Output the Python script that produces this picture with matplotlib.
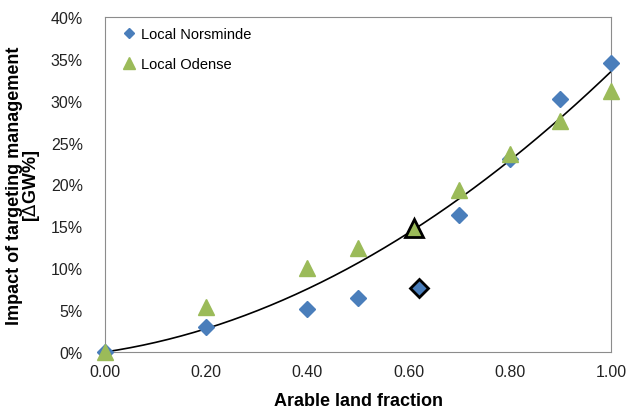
import numpy as np
import matplotlib
matplotlib.use("Agg")
import matplotlib.pyplot as plt
from matplotlib.ticker import FuncFormatter

plt.rcParams['font.family'] = ['Liberation Sans', 'DejaVu Sans']

# data (fraction of arable land vs impact in %)
norsminde_x = [0.0, 0.2, 0.4, 0.5, 0.7, 0.8, 0.9, 1.0]
norsminde_y = [0.0, 3.0, 5.1, 6.4, 16.4, 23.1, 30.2, 34.5]
odense_x = [0.0, 0.2, 0.4, 0.5, 0.7, 0.8, 0.9, 1.0]
odense_y = [0.0, 5.4, 10.0, 12.4, 19.4, 23.6, 27.6, 31.2]
# highlighted points
hl_norsminde = (0.62, 7.6)
hl_odense = (0.61, 14.8)

blue = '#4a7ebb'
green = '#9bbb59'

fig = plt.figure(figsize=(6.28, 4.10), dpi=100)
ax = fig.add_axes([105 / 628, 57 / 410, 506 / 628, 335 / 410])

# polynomial trend line through origin (fit on both series)
xs = np.array(norsminde_x + odense_x)
ys = np.array(norsminde_y + odense_y)
A = np.vstack([xs, xs ** 2]).T
coef, *_ = np.linalg.lstsq(A, ys, rcond=None)
xf = np.linspace(0, 1, 200)
ax.plot(xf, coef[0] * xf + coef[1] * xf ** 2, color='black', lw=1.2, zorder=2)

ax.plot(norsminde_x, norsminde_y, 'D', color=blue, ms=8, mec=blue,
        label='Local Norsminde', zorder=3, clip_on=False)
ax.plot(odense_x, odense_y, '^', color=green, ms=12, mec=green,
        label='Local Odense', zorder=3, clip_on=False)
ax.plot(*hl_norsminde, 'D', color=blue, ms=9, mec='black', mew=2, zorder=4)
ax.plot(*hl_odense, '^', color=green, ms=13, mec='black', mew=2, zorder=4)

ax.set_xlim(0, 1)
ax.set_ylim(0, 40)
ax.set_xticks(np.arange(0, 1.01, 0.2))
ax.set_yticks(np.arange(0, 41, 5))
ax.xaxis.set_major_formatter(FuncFormatter(lambda v, p: f'{v:.2f}'))
ax.yaxis.set_major_formatter(FuncFormatter(lambda v, p: f'{v:.0f}%'))
ax.tick_params(length=0, labelsize=11.5, colors='#222222')
ax.tick_params(axis='y', pad=16)
ax.tick_params(axis='x', pad=9)
for s in ax.spines.values():
    s.set_color('#8c8c8c')

ax.set_xlabel('Arable land fraction', fontsize=13, fontweight='bold', labelpad=9)
ax.set_ylabel('Impact of targeting management\n[$\\Delta$GW%]', fontsize=13,
              fontweight='bold', labelpad=6, linespacing=0.9)

leg = ax.legend(loc='upper left', frameon=False, fontsize=10.5, handletextpad=0.2,
                handlelength=1.2, labelspacing=1.1, markerscale=0.7,
                borderaxespad=0.3, bbox_to_anchor=(0.01, 1.0))

fig.savefig('out.png', dpi=100)
